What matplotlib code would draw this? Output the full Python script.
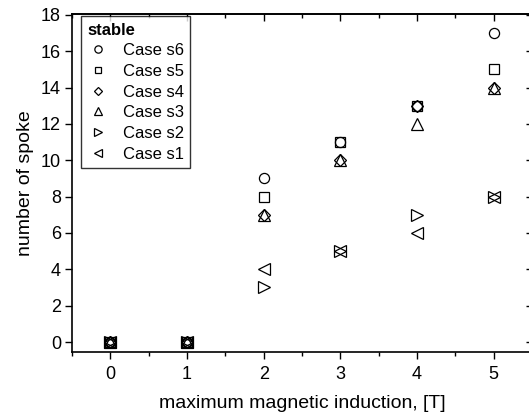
import matplotlib
matplotlib.use("Agg")
import matplotlib.pyplot as plt
from matplotlib.ticker import MultipleLocator, NullFormatter

plt.rcParams['font.family'] = ['Liberation Sans', 'DejaVu Sans']

x = [0, 1, 2, 3, 4, 5]
series = {
    "Case s6": [0, 0, 9, 11, 13, 17],
    "Case s5": [0, 0, 8, 11, 13, 15],
    "Case s4": [0, 0, 7, 10, 13, 14],
    "Case s3": [0, 0, 7, 10, 12, 14],
    "Case s2": [0, 0, 3, 5, 7, 8],
    "Case s1": [0, 0, 4, 5, 6, 8],
}
markers = {"Case s6": "o", "Case s5": "s", "Case s4": "D", "Case s3": "^",
           "Case s2": ">", "Case s1": "<"}
sizes = {"Case s6": 7.3, "Case s5": 6.8, "Case s4": 5.8, "Case s3": 8.2,
         "Case s2": 8.2, "Case s1": 8.2}

W, H = 529, 417
fig = plt.figure(figsize=(W/100, H/100), dpi=100)
L, R, T, B = 72, 532, 14, 352
ax = fig.add_axes([L/W, 1 - B/H, (R - L)/W, (B - T)/H])

for name, vals in series.items():
    ax.plot(x, vals, linestyle='none', marker=markers[name], markersize=sizes[name],
            markerfacecolor='none', markeredgecolor='black',
            markeredgewidth=0.9, label=name)

ax.set_xlim(-0.5, 5.5)
ax.set_ylim(-0.55, 18.05)
ax.xaxis.set_major_locator(MultipleLocator(1))
ax.xaxis.set_minor_locator(MultipleLocator(0.5))
ax.yaxis.set_major_locator(MultipleLocator(2))
ax.tick_params(axis='x', which='major', direction='out', length=5, width=1,
               labelsize=13, pad=5, top=False)
ax.tick_params(axis='x', which='minor', direction='out', length=3, width=1, top=False)
ax.tick_params(axis='y', which='major', direction='out', length=5, width=1,
               labelsize=13, pad=3, right=False)
for spine in ax.spines.values():
    spine.set_linewidth(1.2)

# top and right ticks pointing inward
secx = ax.secondary_xaxis('top')
secx.xaxis.set_major_locator(MultipleLocator(1))
secx.xaxis.set_minor_locator(MultipleLocator(0.5))
secx.xaxis.set_major_formatter(NullFormatter())
secx.tick_params(axis='x', which='major', direction='in', length=5, width=1)
secx.tick_params(axis='x', which='minor', direction='in', length=3, width=1)
secx.spines['top'].set_linewidth(1.2)
secy = ax.secondary_yaxis('right')
secy.yaxis.set_major_locator(MultipleLocator(2))
secy.yaxis.set_major_formatter(NullFormatter())
secy.tick_params(axis='y', which='major', direction='in', length=4, width=1)

ax.set_xlabel("maximum magnetic induction, [T]", fontsize=14, labelpad=9)
ax.set_ylabel("number of spoke", fontsize=14, labelpad=5)

leg = ax.legend(loc='upper left', title="stable", frameon=True, fancybox=False,
                edgecolor='black', fontsize=12, handletextpad=0.85,
                borderaxespad=0.0, borderpad=0.4, labelspacing=0.34,
                handlelength=1.25, markerscale=0.72, alignment='left',
                bbox_to_anchor=((81 - L)/(R - L), (B - 16)/(B - T)))
leg.get_frame().set_linewidth(1.0)
leg.get_title().set_fontweight('bold')
leg.get_title().set_fontsize(12)

fig.savefig("out.png", dpi=100)
